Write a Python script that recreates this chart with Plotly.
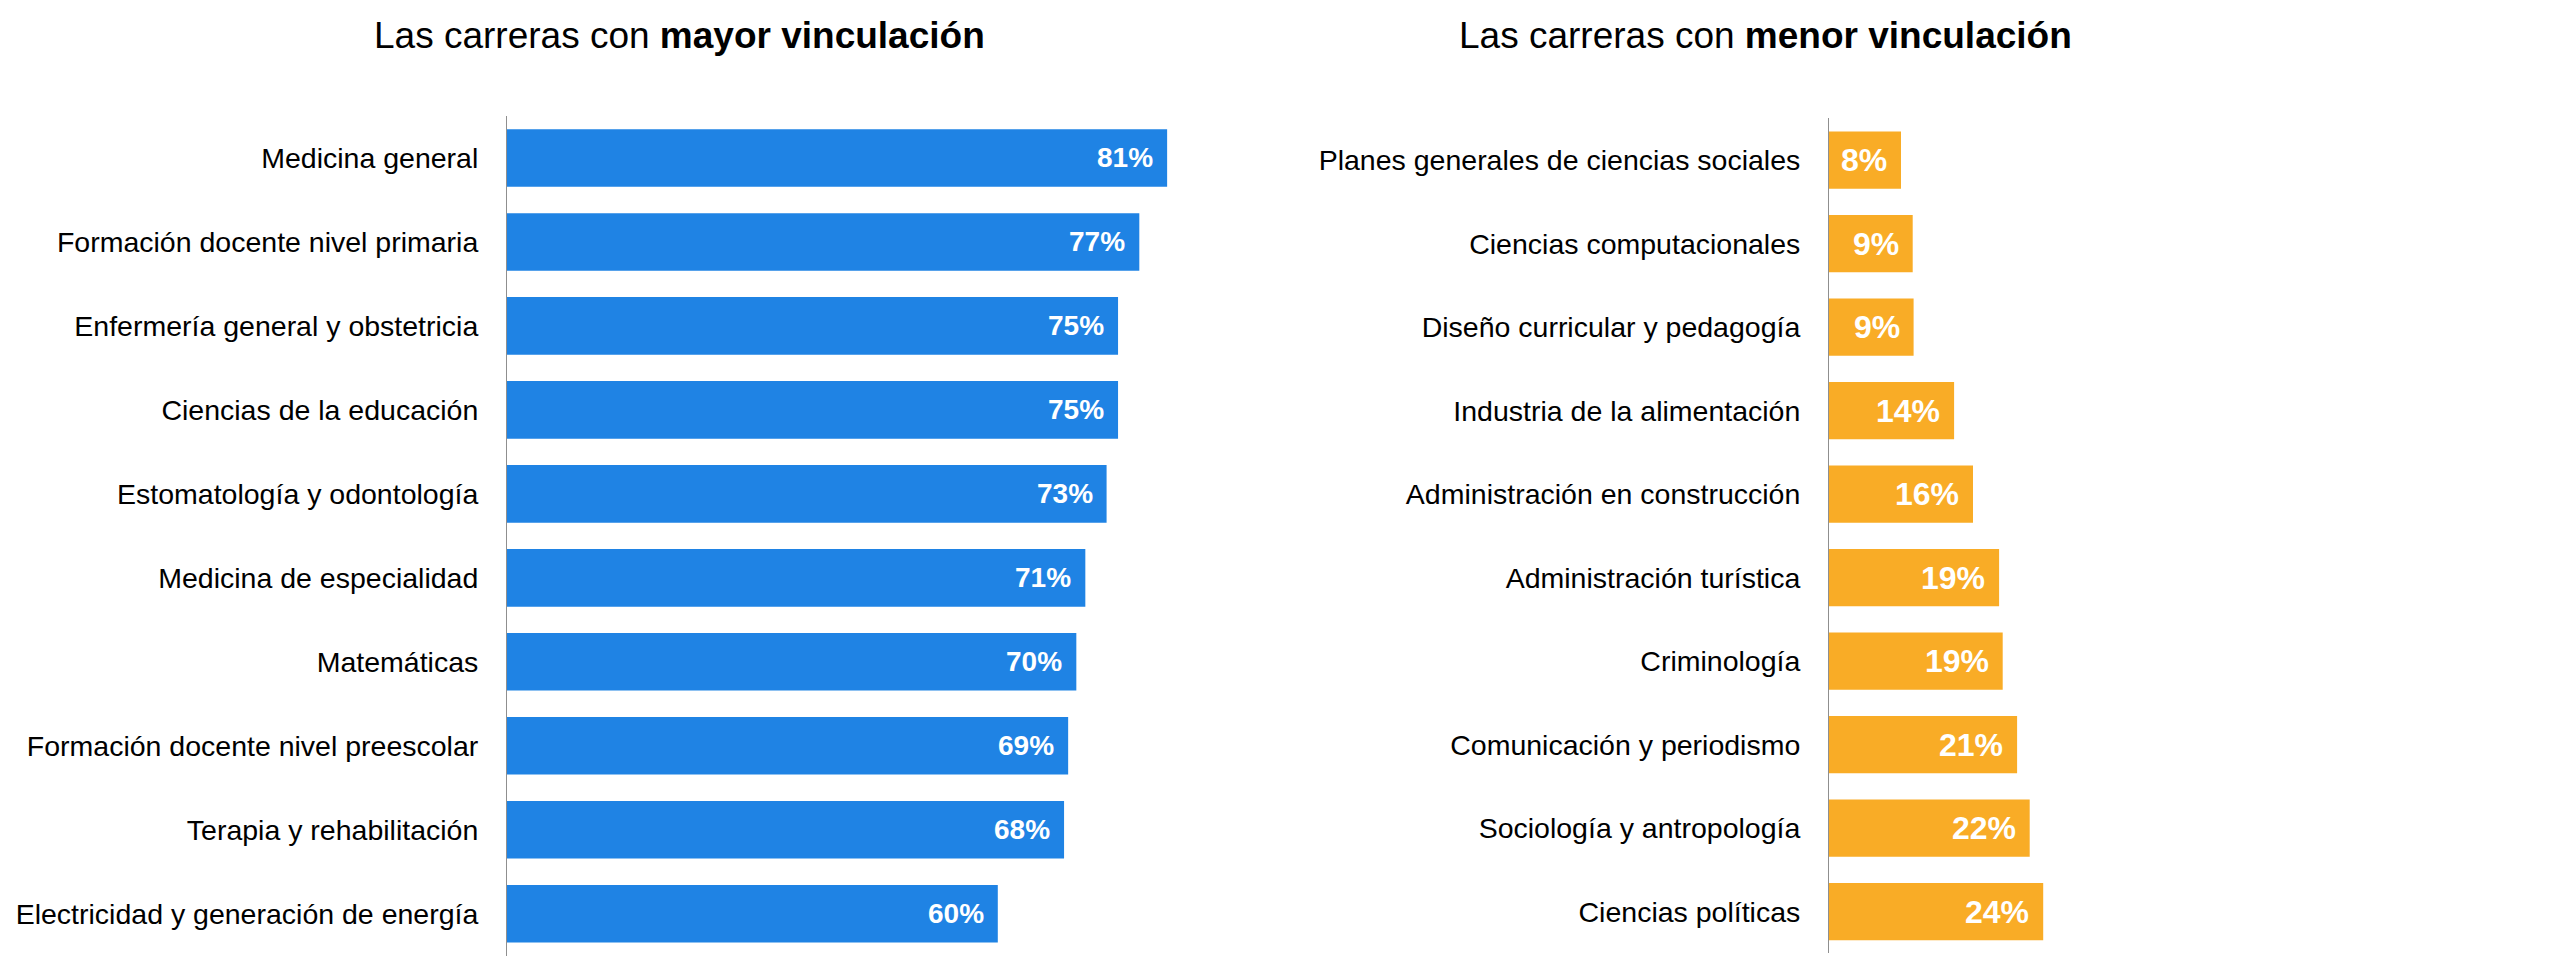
import plotly.graph_objects as go

# ---- data ----
top_titles = ["Las carreras con <b>mayor vinculación</b>", "Las carreras con <b>menor vinculación</b>"]

top_careers = [
    "Medicina general",
    "Formación docente nivel primaria",
    "Enfermería general y obstetricia",
    "Ciencias de la educación",
    "Estomatología y odontología",
    "Medicina de especialidad",
    "Matemáticas",
    "Formación docente nivel preescolar",
    "Terapia y rehabilitación",
    "Electricidad y generación de energía",
]
top_values = [80.7, 77.3, 74.7, 74.7, 73.3, 70.7, 69.6, 68.6, 68.1, 60.0]

low_careers = [
    "Planes generales de ciencias sociales",
    "Ciencias computacionales",
    "Diseño curricular y pedagogía",
    "Industria de la alimentación",
    "Administración en construcción",
    "Administración turística",
    "Criminología",
    "Comunicación y periodismo",
    "Sociología y antropología",
    "Ciencias políticas",
]
low_values = [8.0, 9.3, 9.4, 13.9, 16.0, 18.9, 19.3, 20.9, 22.3, 23.8]

BLUE = "#1F83E4"
ORANGE = "#F9AC26"
FONT = "Liberation Sans, Arial, sans-serif"
W, H = 2560, 979

fig = go.Figure()
fig.add_trace(go.Bar(x=top_values, y=top_careers, orientation="h",
                     marker=dict(color=BLUE, line=dict(width=0)),
                     xaxis="x", yaxis="y", hoverinfo="x+y"))
fig.add_trace(go.Bar(x=low_values, y=low_careers, orientation="h",
                     marker=dict(color=ORANGE, line=dict(width=0)),
                     xaxis="x2", yaxis="y2", hoverinfo="x+y"))

annotations = []
for v, c in zip(top_values, top_careers):
    annotations.append(dict(x=v, y=c, xref="x", yref="y", text=f"<b>{round(v)}%</b>",
                            showarrow=False, xanchor="right", yanchor="middle", xshift=-12,
                            font=dict(family=FONT, size=28, color="white")))
for v, c in zip(low_values, low_careers):
    annotations.append(dict(x=v, y=c, xref="x2", yref="y2", text=f"<b>{round(v)}%</b>",
                            showarrow=False, xanchor="right", yanchor="middle", xshift=-12,
                            font=dict(family=FONT, size=32, color="white")))

# panel titles
annotations.append(dict(x=679 / W, y=1 - 35 / H, xref="paper", yref="paper", text=top_titles[0],
                        showarrow=False, xanchor="center", yanchor="middle",
                        font=dict(family=FONT, size=37, color="black")))
annotations.append(dict(x=1765 / W, y=1 - 35 / H, xref="paper", yref="paper", text=top_titles[1],
                        showarrow=False, xanchor="center", yanchor="middle",
                        font=dict(family=FONT, size=37, color="black")))

xcommon = dict(showgrid=False, zeroline=False, showticklabels=False, showline=False, fixedrange=True)
ycommon = dict(showgrid=False, zeroline=False, showline=True, linecolor="#8f8f8f", linewidth=1,
               autorange="reversed", ticks="", ticklabelstandoff=22,
               tickfont=dict(family=FONT, size=28.5, color="black"), fixedrange=True)

fig.update_layout(
    width=W, height=H,
    margin=dict(l=0, r=0, t=0, b=0),
    paper_bgcolor="white", plot_bgcolor="white",
    showlegend=False, bargap=0.314,
    font=dict(family=FONT, color="black"),
    xaxis=dict(domain=[507 / W, 1360 / W], range=[0, (1360 - 507) / 8.18], **xcommon),
    yaxis=dict(domain=[1 - 955.7 / H, 1 - 116 / H], anchor="x", **ycommon),
    xaxis2=dict(domain=[1829 / W, 1.0], range=[0, (W - 1829) / 9.0], anchor="y2", **xcommon),
    yaxis2=dict(domain=[1 - 953.3 / H, 1 - 118.3 / H], anchor="x2", **ycommon),
    annotations=annotations,
)

fig.write_html("out.html", config={"displayModeBar": False},
               post_script="document.body.style.margin='0';document.body.style.overflow='hidden';")
